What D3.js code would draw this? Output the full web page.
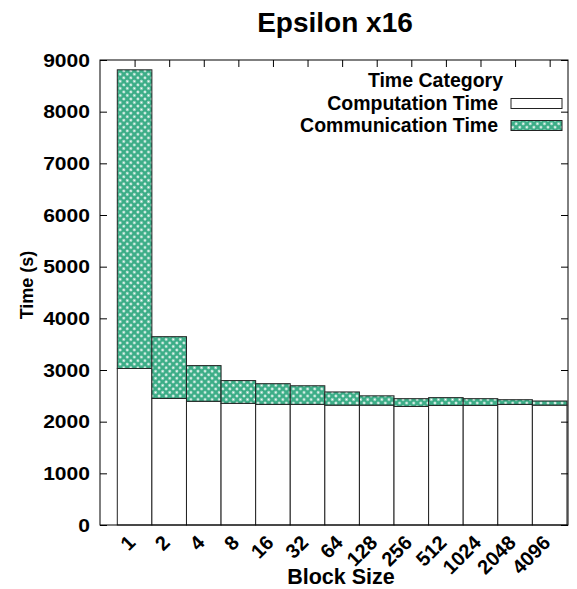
<html>
  <head>
    <style>
      body { margin: 0; background: #fff; }
      text { font-family: "Liberation Sans", Arial, sans-serif; font-weight: bold; fill: #000; }
    </style>
  </head>
  <body>
    <script src="https://d3js.org/d3.v7.min.js"></script>
    <script>
    // data
    var blockSizes = ["1", "2", "4", "8", "16", "32", "64", "128", "256", "512", "1024", "2048", "4096"];
    var computation = [3030, 2450, 2395, 2355, 2335, 2335, 2320, 2320, 2295, 2315, 2315, 2335, 2320];
    var communication = [5780, 1195, 690, 440, 400, 360, 255, 180, 150, 150, 130, 90, 80];
    var yTicks = [0, 1000, 2000, 3000, 4000, 5000, 6000, 7000, 8000, 9000];

    var width = 577, height = 589;
    var m = {left: 100, right: 568, top: 60, bottom: 525};

    var svg = d3.select("body").append("svg")
        .attr("width", width)
        .attr("height", height);

    // crosshatch pattern for the communication part
    var defs = svg.append("defs");
    var pat = defs.append("pattern")
        .attr("id", "hatch")
        .attr("patternUnits", "userSpaceOnUse")
        .attr("width", 5).attr("height", 5)
        .attr("patternTransform", "rotate(45)");
    pat.append("rect").attr("width", 5).attr("height", 5).attr("fill", "#3cad87");
    pat.append("circle").attr("cx", 2.5).attr("cy", 2.5).attr("r", 1.2).attr("fill", "#fff");

    var x = d3.scaleLinear().domain([-1, 12.53]).range([m.left, m.right]);
    var y = d3.scaleLinear().domain([0, 9000]).range([m.bottom, m.top]);
    var bw = x(1) - x(0);

    //bars
    var g = svg.append("g");
    blockSizes.forEach(function(b, i) {
      g.append("rect")
        .attr("x", x(i) - bw / 2)
        .attr("y", y(computation[i]))
        .attr("width", bw)
        .attr("height", y(0) - y(computation[i]))
        .attr("fill", "#fff")
        .attr("stroke", "#222")
        .attr("stroke-width", 1);
      g.append("rect")
        .attr("x", x(i) - bw / 2)
        .attr("y", y(computation[i] + communication[i]))
        .attr("width", bw)
        .attr("height", y(computation[i]) - y(computation[i] + communication[i]))
        .attr("fill", "url(#hatch)")
        .attr("stroke", "#222")
        .attr("stroke-width", 1);
    });

    // y axis left, ticks inward, labels a bit wide like the original
    var yAxis = svg.append("g").attr("transform", "translate(" + m.left + ",0)")
        .call(d3.axisLeft(y).tickValues(yTicks).tickSize(-7).tickFormat(""));
    yAxis.select(".domain").remove();
    svg.append("g").selectAll("text")
      .data(yTicks)
      .join("text")
        .attr("transform", function(d) { return "translate(90," + (y(d) + 6.5) + ") scale(1.17,1)"; })
        .attr("text-anchor", "end")
        .style("font-size", "18px")
        .text(function(d) { return d; });

    // mirrored ticks right
    var yRight = svg.append("g").attr("transform", "translate(" + m.right + ",0)")
        .call(d3.axisRight(y).tickValues(yTicks).tickSize(-7).tickFormat(""));
    yRight.select(".domain").remove();

    // top ticks at bar centers
    var xTop = svg.append("g").attr("transform", "translate(0," + m.top + ")")
        .call(d3.axisTop(x).tickValues(d3.range(blockSizes.length)).tickSize(-7).tickFormat(""));
    xTop.select(".domain").remove();

    // x tick labels
    svg.append("g").selectAll("text")
      .data(blockSizes)
      .join("text")
        .attr("transform", function(d, i) { return "translate(" + (x(i) + 2) + "," + (m.bottom + 19) + ") rotate(-45)"; })
        .attr("text-anchor", "end")
        .style("font-size", "20px")
        .text(function(d) { return d; });

    // border
    svg.append("rect")
        .attr("x", m.left).attr("y", m.top)
        .attr("width", m.right - m.left).attr("height", m.bottom - m.top)
        .attr("fill", "none").attr("stroke", "#000").attr("stroke-width", 1);

    // titles
    svg.append("text").attr("x", 335).attr("y", 32).attr("text-anchor", "middle")
        .style("font-size", "28px").text("Epsilon x16");
    svg.append("text").attr("x", 341).attr("y", 584).attr("text-anchor", "middle")
        .style("font-size", "21.5px").text("Block Size");
    svg.append("text").attr("transform", "translate(33,285) rotate(-90)").attr("text-anchor", "middle")
        .style("font-size", "18px").text("Time (s)");

    // legend
    var legend = svg.append("g");
    legend.append("text").attr("x", 503).attr("y", 87).attr("text-anchor", "end")
        .style("font-size", "19.5px").text("Time Category");
    var items = [["Computation Time", "#fff"], ["Communication Time", "url(#hatch)"]];
    items.forEach(function(it, i) {
      legend.append("text").attr("x", 498).attr("y", 110 + i * 22).attr("text-anchor", "end")
          .style("font-size", "19.5px").text(it[0]);
      legend.append("rect").attr("x", 511).attr("y", 98.5 + i * 22)
          .attr("width", 51).attr("height", 10)
          .attr("fill", it[1]).attr("stroke", "#222").attr("stroke-width", 1);
    });
    </script>
  </body>
</html>
